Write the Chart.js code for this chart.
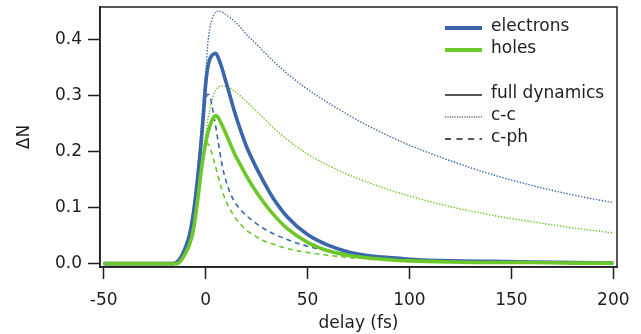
<!DOCTYPE html>
<html>
<head>
<meta charset="utf-8">
<script src="https://cdn.jsdelivr.net/npm/chart.js@4/dist/chart.umd.min.js"></script>
<style>
  html, body { margin: 0; padding: 0; background: #fff; }
  #wrap { width: 641px; height: 334px; }
</style>
</head>
<body>
<div id="wrap"><canvas id="c"></canvas></div>
<script>
// --- data ---
const delay = [-50, -16, -14, -12, -10, -8, -6, -4, -2, -1, 0, 1, 2, 3, 4, 5, 6, 8, 10, 12, 14, 17, 20, 24, 28, 33, 40, 50, 60, 70, 80, 90, 100, 120, 140, 160, 180, 200];

const elecFull = [0, 0, 0.003, 0.012, 0.028, 0.05, 0.09, 0.15, 0.225, 0.27, 0.32, 0.35, 0.365, 0.372, 0.375, 0.376, 0.37, 0.35, 0.325, 0.3, 0.274, 0.24, 0.21, 0.178, 0.15, 0.118, 0.084, 0.052, 0.033, 0.021, 0.014, 0.011, 0.008, 0.005, 0.004, 0.003, 0.002, 0.001];
const holeFull = [0, 0, 0, 0.006, 0.018, 0.033, 0.06, 0.11, 0.17, 0.195, 0.215, 0.232, 0.245, 0.255, 0.262, 0.265, 0.262, 0.248, 0.232, 0.215, 0.198, 0.177, 0.157, 0.133, 0.112, 0.089, 0.063, 0.038, 0.023, 0.015, 0.01, 0.007, 0.005, 0.003, 0.002, 0.002, 0.001, 0.001];
const elecCC = [0, 0, 0.003, 0.012, 0.03, 0.055, 0.1, 0.165, 0.25, 0.3, 0.34, 0.39, 0.42, 0.435, 0.445, 0.45, 0.452, 0.45, 0.445, 0.44, 0.434, 0.423, 0.41, 0.396, 0.381, 0.363, 0.34, 0.312, 0.288, 0.266, 0.246, 0.228, 0.212, 0.184, 0.16, 0.14, 0.123, 0.109];
const holeCC = [0, 0, 0, 0.006, 0.018, 0.035, 0.065, 0.115, 0.18, 0.205, 0.23, 0.255, 0.275, 0.29, 0.303, 0.31, 0.315, 0.318, 0.317, 0.314, 0.309, 0.3, 0.29, 0.276, 0.262, 0.244, 0.222, 0.196, 0.176, 0.159, 0.145, 0.132, 0.121, 0.102, 0.087, 0.075, 0.064, 0.055];
const elecCPh = [0, 0, 0.003, 0.012, 0.028, 0.05, 0.09, 0.15, 0.22, 0.26, 0.29, 0.303, 0.3, 0.285, 0.265, 0.245, 0.222, 0.178, 0.148, 0.127, 0.112, 0.097, 0.086, 0.074, 0.064, 0.054, 0.043, 0.031, 0.023, 0.017, 0.012, 0.009, 0.007, 0.005, 0.003, 0.002, 0.002, 0.001];
const holeCPh = [0, 0, 0, 0.006, 0.018, 0.033, 0.06, 0.11, 0.165, 0.19, 0.205, 0.215, 0.21, 0.198, 0.185, 0.172, 0.158, 0.132, 0.112, 0.097, 0.085, 0.071, 0.06, 0.05, 0.042, 0.035, 0.027, 0.02, 0.015, 0.011, 0.009, 0.007, 0.006, 0.004, 0.003, 0.002, 0.001, 0.001];

const xTicks = [-50, 0, 50, 100, 150, 200];
const yTicks = [0, 0.1, 0.2, 0.3, 0.4];

const carrierLabels = ['electrons', 'holes'];
const styleLabels = ['full dynamics', 'c-c', 'c-ph'];

const BLUE = '#3a66aa';
const GREEN = '#6cc72a';
const INK = '#1e1e1e';
const FONT = '"DejaVu Sans", sans-serif';

function pts(ys) {
    return delay.map((x, i) => ({ x: x, y: ys[i] }));
}

function line(label, ys, color, kind) {
    const ds = {
        label: label,
        data: pts(ys),
        borderColor: color,
        pointRadius: 0,
        fill: false,
        cubicInterpolationMode: 'monotone'
    };
    if (kind === 'solid') {
        ds.borderWidth = 3.6;
    } else if (kind === 'dot') {
        ds.borderWidth = 1.4;
        ds.borderDash = [1.4, 1.6];
    } else {
        ds.borderWidth = 1.6;
        ds.borderDash = [5, 4];
    }
    return ds;
}

// frame + hand-made legend (two groups with a gap, like the original)
const framePlugin = {
    id: 'frame',
    afterDraw(chart) {
        const { ctx, chartArea: a } = chart;
        ctx.save();
        ctx.strokeStyle = INK;
        ctx.lineWidth = 1.5;
        ctx.strokeRect(a.left, a.top, a.right - a.left, a.bottom - a.top);

        ctx.font = '17px ' + FONT;
        ctx.fillStyle = INK;
        ctx.textBaseline = 'middle';
        const x0 = 445, x1 = 482, tx = 491;
        const rows = [
            { y: 28, text: carrierLabels[0], color: BLUE, w: 4, dash: [] },
            { y: 50, text: carrierLabels[1], color: GREEN, w: 4, dash: [] },
            { y: 95, text: styleLabels[0], color: INK, w: 1.6, dash: [] },
            { y: 117, text: styleLabels[1], color: INK, w: 1.2, dash: [1.2, 1.2] },
            { y: 139, text: styleLabels[2], color: INK, w: 1.6, dash: [6, 5.5] }
        ];
        rows.forEach(r => {
            ctx.beginPath();
            ctx.setLineDash(r.dash);
            ctx.lineWidth = r.w;
            ctx.strokeStyle = r.color;
            ctx.moveTo(x0, r.y);
            ctx.lineTo(x1, r.y);
            ctx.stroke();
            ctx.fillText(r.text, tx, r.y - 1);
        });
        ctx.restore();
    }
};

new Chart(document.getElementById('c'), {
    type: 'line',
    data: {
        datasets: [
            line('holes full', holeFull, GREEN, 'solid'),
            line('electrons full', elecFull, BLUE, 'solid'),
            line('holes c-ph', holeCPh, GREEN, 'dash'),
            line('electrons c-ph', elecCPh, BLUE, 'dash'),
            line('holes c-c', holeCC, GREEN, 'dot'),
            line('electrons c-c', elecCC, BLUE, 'dot')
        ]
    },
    options: {
        responsive: true,
        maintainAspectRatio: false,
        animation: false,
        layout: { padding: { left: 0, top: 7, right: 24, bottom: 0 } },
        plugins: {
            legend: { display: false },
            tooltip: { enabled: false }
        },
        scales: {
            x: {
                type: 'linear',
                min: -51.8,
                max: 201.8,
                afterBuildTicks: s => { s.ticks = xTicks.map(v => ({ value: v })); },
                afterFit: s => { s.height = 67; s.paddingLeft = 0; s.paddingRight = 0; },
                ticks: { color: INK, font: { family: FONT, size: 17 }, padding: 11, maxRotation: 0 },
                grid: { drawOnChartArea: false, tickLength: 12, tickWidth: 1.5, tickColor: INK },
                border: { display: true, width: 1.5, color: INK },
                title: { display: true, text: 'delay (fs)', color: INK, font: { family: FONT, size: 17 }, padding: { top: 0, bottom: 0 } }
            },
            y: {
                min: -0.006,
                max: 0.459,
                afterBuildTicks: s => { s.ticks = yTicks.map(v => ({ value: v })); },
                afterFit: s => { s.width = 100; s.paddingTop = 0; s.paddingBottom = 0; },
                ticks: { color: INK, font: { family: FONT, size: 17 }, padding: 6, callback: v => v.toFixed(1) },
                grid: { drawOnChartArea: false, tickLength: 12, tickWidth: 1.5, tickColor: INK },
                border: { display: true, width: 1.5, color: INK },
                title: { display: true, text: 'ΔN', color: INK, font: { family: FONT, size: 17 }, padding: { top: 14, bottom: 0 } }
            }
        }
    },
    plugins: [framePlugin]
});
</script>
</body>
</html>
